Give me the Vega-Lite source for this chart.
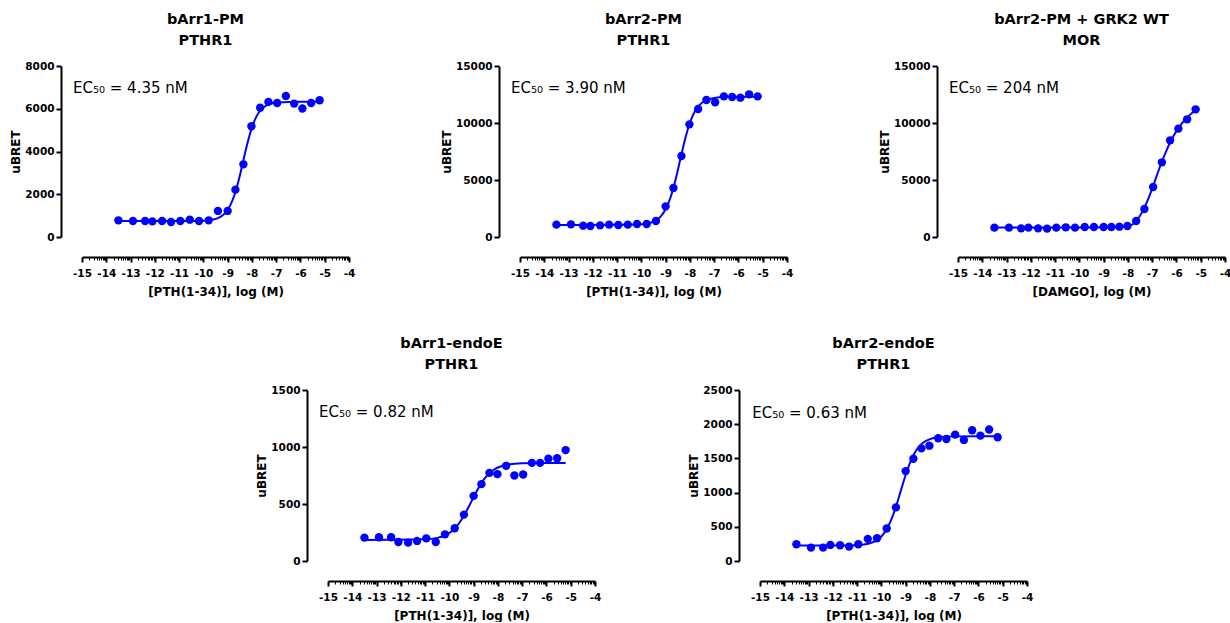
{
  "$schema": "https://vega.github.io/schema/vega-lite/v6.json",
  "padding": {"left": 9, "top": 11, "right": 0, "bottom": 0},
  "autosize": {"type": "pad"},
  "datasets": {
    "pts": [
      {"panel":"p1","x":-13.5,"y":780},{"panel":"p1","x":-12.9,"y":750},{"panel":"p1","x":-12.4,"y":750},{"panel":"p1","x":-12.1,"y":730},{"panel":"p1","x":-11.7,"y":750},{"panel":"p1","x":-11.33,"y":700},{"panel":"p1","x":-10.95,"y":750},{"panel":"p1","x":-10.56,"y":810},{"panel":"p1","x":-10.18,"y":750},{"panel":"p1","x":-9.78,"y":780},{"panel":"p1","x":-9.4,"y":1220},{"panel":"p1","x":-9.0,"y":1220},{"panel":"p1","x":-8.68,"y":2215},{"panel":"p1","x":-8.35,"y":3400},{"panel":"p1","x":-8.02,"y":5180},{"panel":"p1","x":-7.66,"y":6050},{"panel":"p1","x":-7.32,"y":6320},{"panel":"p1","x":-6.96,"y":6270},{"panel":"p1","x":-6.6,"y":6600},{"panel":"p1","x":-6.26,"y":6240},{"panel":"p1","x":-5.92,"y":6010},{"panel":"p1","x":-5.56,"y":6270},{"panel":"p1","x":-5.21,"y":6400},
      {"panel":"p2","x":-13.5,"y":1082},{"panel":"p2","x":-12.9,"y":1111},{"panel":"p2","x":-12.4,"y":994},{"panel":"p2","x":-12.1,"y":965},{"panel":"p2","x":-11.7,"y":1023},{"panel":"p2","x":-11.33,"y":1082},{"panel":"p2","x":-10.95,"y":1053},{"panel":"p2","x":-10.56,"y":1082},{"panel":"p2","x":-10.18,"y":1140},{"panel":"p2","x":-9.78,"y":1140},{"panel":"p2","x":-9.4,"y":1404},{"panel":"p2","x":-9.0,"y":2690},{"panel":"p2","x":-8.68,"y":4298},{"panel":"p2","x":-8.35,"y":7105},{"panel":"p2","x":-8.02,"y":9883},{"panel":"p2","x":-7.66,"y":11228},{"panel":"p2","x":-7.32,"y":12017},{"panel":"p2","x":-6.96,"y":11813},{"panel":"p2","x":-6.6,"y":12339},{"panel":"p2","x":-6.26,"y":12280},{"panel":"p2","x":-5.92,"y":12222},{"panel":"p2","x":-5.56,"y":12515},{"panel":"p2","x":-5.21,"y":12339},
      {"panel":"p3","x":-13.5,"y":819},{"panel":"p3","x":-12.9,"y":819},{"panel":"p3","x":-12.4,"y":760},{"panel":"p3","x":-12.1,"y":819},{"panel":"p3","x":-11.7,"y":760},{"panel":"p3","x":-11.33,"y":731},{"panel":"p3","x":-10.95,"y":819},{"panel":"p3","x":-10.56,"y":848},{"panel":"p3","x":-10.18,"y":819},{"panel":"p3","x":-9.78,"y":877},{"panel":"p3","x":-9.4,"y":877},{"panel":"p3","x":-9.0,"y":877},{"panel":"p3","x":-8.68,"y":877},{"panel":"p3","x":-8.35,"y":906},{"panel":"p3","x":-8.02,"y":965},{"panel":"p3","x":-7.66,"y":1404},{"panel":"p3","x":-7.32,"y":2456},{"panel":"p3","x":-6.96,"y":4386},{"panel":"p3","x":-6.6,"y":6550},{"panel":"p3","x":-6.26,"y":8480},{"panel":"p3","x":-5.92,"y":9503},{"panel":"p3","x":-5.56,"y":10322},{"panel":"p3","x":-5.21,"y":11199},
      {"panel":"p4","x":-13.5,"y":205},{"panel":"p4","x":-12.9,"y":208},{"panel":"p4","x":-12.4,"y":208},{"panel":"p4","x":-12.1,"y":167},{"panel":"p4","x":-11.7,"y":161},{"panel":"p4","x":-11.33,"y":176},{"panel":"p4","x":-10.95,"y":199},{"panel":"p4","x":-10.56,"y":167},{"panel":"p4","x":-10.18,"y":234},{"panel":"p4","x":-9.78,"y":287},{"panel":"p4","x":-9.4,"y":407},{"panel":"p4","x":-9.0,"y":571},{"panel":"p4","x":-8.68,"y":674},{"panel":"p4","x":-8.35,"y":773},{"panel":"p4","x":-8.02,"y":762},{"panel":"p4","x":-7.66,"y":835},{"panel":"p4","x":-7.32,"y":750},{"panel":"p4","x":-6.96,"y":759},{"panel":"p4","x":-6.6,"y":861},{"panel":"p4","x":-6.26,"y":861},{"panel":"p4","x":-5.92,"y":897},{"panel":"p4","x":-5.56,"y":902},{"panel":"p4","x":-5.21,"y":973},
      {"panel":"p5","x":-13.5,"y":245},{"panel":"p5","x":-12.9,"y":196},{"panel":"p5","x":-12.4,"y":196},{"panel":"p5","x":-12.1,"y":235},{"panel":"p5","x":-11.7,"y":230},{"panel":"p5","x":-11.33,"y":211},{"panel":"p5","x":-10.95,"y":245},{"panel":"p5","x":-10.56,"y":324},{"panel":"p5","x":-10.18,"y":333},{"panel":"p5","x":-9.78,"y":475},{"panel":"p5","x":-9.4,"y":784},{"panel":"p5","x":-9.0,"y":1314},{"panel":"p5","x":-8.68,"y":1495},{"panel":"p5","x":-8.35,"y":1647},{"panel":"p5","x":-8.02,"y":1686},{"panel":"p5","x":-7.66,"y":1794},{"panel":"p5","x":-7.32,"y":1784},{"panel":"p5","x":-6.96,"y":1848},{"panel":"p5","x":-6.6,"y":1770},{"panel":"p5","x":-6.26,"y":1912},{"panel":"p5","x":-5.92,"y":1833},{"panel":"p5","x":-5.56,"y":1922},{"panel":"p5","x":-5.21,"y":1809}
    ],
    "fit": [
      {"panel":"p1","x":-13.5,"y":750},{"panel":"p1","x":-11,"y":750},{"panel":"p1","x":-10,"y":766},{"panel":"p1","x":-9.6,"y":816},{"panel":"p1","x":-9.4,"y":883},{"panel":"p1","x":-9.2,"y":1015},{"panel":"p1","x":-9.0,"y":1266},{"panel":"p1","x":-8.8,"y":1711},{"panel":"p1","x":-8.6,"y":2413},{"panel":"p1","x":-8.4,"y":3342},{"panel":"p1","x":-8.2,"y":4316},{"panel":"p1","x":-8.0,"y":5120},{"panel":"p1","x":-7.8,"y":5666},{"panel":"p1","x":-7.6,"y":5984},{"panel":"p1","x":-7.4,"y":6155},{"panel":"p1","x":-7.2,"y":6243},{"panel":"p1","x":-7.0,"y":6287},{"panel":"p1","x":-6.5,"y":6320},{"panel":"p1","x":-6.0,"y":6328},{"panel":"p1","x":-5.21,"y":6330},
      {"panel":"p2","x":-13.5,"y":1060},{"panel":"p2","x":-11,"y":1065},{"panel":"p2","x":-10,"y":1115},{"panel":"p2","x":-9.6,"y":1268},{"panel":"p2","x":-9.4,"y":1458},{"panel":"p2","x":-9.2,"y":1810},{"panel":"p2","x":-9.0,"y":2436},{"panel":"p2","x":-8.8,"y":3463},{"panel":"p2","x":-8.6,"y":4955},{"panel":"p2","x":-8.4,"y":6771},{"panel":"p2","x":-8.2,"y":8570},{"panel":"p2","x":-8.0,"y":10020},{"panel":"p2","x":-7.8,"y":11000},{"panel":"p2","x":-7.6,"y":11595},{"panel":"p2","x":-7.4,"y":11930},{"panel":"p2","x":-7.0,"y":12200},{"panel":"p2","x":-6.5,"y":12280},{"panel":"p2","x":-6.0,"y":12295},{"panel":"p2","x":-5.21,"y":12300},
      {"panel":"p3","x":-13.5,"y":830},{"panel":"p3","x":-10,"y":835},{"panel":"p3","x":-9,"y":845},{"panel":"p3","x":-8.4,"y":870},{"panel":"p3","x":-8.0,"y":950},{"panel":"p3","x":-7.8,"y":1120},{"panel":"p3","x":-7.6,"y":1550},{"panel":"p3","x":-7.4,"y":2250},{"panel":"p3","x":-7.2,"y":3150},{"panel":"p3","x":-7.0,"y":4250},{"panel":"p3","x":-6.8,"y":5450},{"panel":"p3","x":-6.6,"y":6600},{"panel":"p3","x":-6.4,"y":7650},{"panel":"p3","x":-6.2,"y":8550},{"panel":"p3","x":-6.0,"y":9300},{"panel":"p3","x":-5.8,"y":9900},{"panel":"p3","x":-5.6,"y":10400},{"panel":"p3","x":-5.4,"y":10800},{"panel":"p3","x":-5.21,"y":11150},
      {"panel":"p4","x":-13.5,"y":185},{"panel":"p4","x":-11.5,"y":188},{"panel":"p4","x":-11,"y":190},{"panel":"p4","x":-10.5,"y":203},{"panel":"p4","x":-10.2,"y":223},{"panel":"p4","x":-10.0,"y":246},{"panel":"p4","x":-9.8,"y":281},{"panel":"p4","x":-9.6,"y":331},{"panel":"p4","x":-9.4,"y":396},{"panel":"p4","x":-9.2,"y":476},{"panel":"p4","x":-9.0,"y":561},{"panel":"p4","x":-8.8,"y":641},{"panel":"p4","x":-8.6,"y":709},{"panel":"p4","x":-8.4,"y":760},{"panel":"p4","x":-8.2,"y":796},{"panel":"p4","x":-8.0,"y":820},{"panel":"p4","x":-7.6,"y":845},{"panel":"p4","x":-7.0,"y":857},{"panel":"p4","x":-6.0,"y":860},{"panel":"p4","x":-5.21,"y":860},
      {"panel":"p5","x":-13.5,"y":225},{"panel":"p5","x":-11.5,"y":227},{"panel":"p5","x":-11,"y":232},{"panel":"p5","x":-10.5,"y":257},{"panel":"p5","x":-10.2,"y":301},{"panel":"p5","x":-10.0,"y":359},{"panel":"p5","x":-9.8,"y":453},{"panel":"p5","x":-9.6,"y":596},{"panel":"p5","x":-9.4,"y":792},{"panel":"p5","x":-9.2,"y":1025},{"panel":"p5","x":-9.0,"y":1258},{"panel":"p5","x":-8.8,"y":1454},{"panel":"p5","x":-8.6,"y":1598},{"panel":"p5","x":-8.4,"y":1691},{"panel":"p5","x":-8.2,"y":1748},{"panel":"p5","x":-8.0,"y":1782},{"panel":"p5","x":-7.6,"y":1812},{"panel":"p5","x":-7.0,"y":1822},{"panel":"p5","x":-6.0,"y":1825},{"panel":"p5","x":-5.21,"y":1825}
    ]
  },
  "spacing": 37,
  "vconcat": [
    {
      "hconcat": [
        {
          "width": 267, "height": 171,
          "title": {"text": ["bArr1-PM", "PTHR1"]},
          "resolve": {"axis": {"x": "independent", "y": "independent"}},
          "layer": [
            {"data": {"name": "fit"}, "transform": [{"filter": "datum.panel == 'p1'"}],
             "mark": {"type": "line", "color": "#0000ff", "strokeWidth": 2, "interpolate": "monotone"},
             "encoding": {
               "x": {"field": "x", "type": "quantitative", "title": "[PTH(1-34)], log (M)", "scale": {"domain": [-15, -4], "nice": false, "zero": false},
                     "axis": {"orient": "bottom", "offset": 20, "labelOverlap": false, "labelFlush": false, "values": [-15,-14,-13,-12,-11,-10,-9,-8,-7,-6,-5,-4], "labelExpr": "'' + datum.value", "tickSize": 5, "tickWidth": 2}},
               "y": {"field": "y", "type": "quantitative", "title": "uBRET", "scale": {"domain": [0, 8000], "nice": false},
                     "axis": {"orient": "left", "offset": 21, "labelOverlap": false, "labelFlush": false, "values": [0, 2000, 4000, 6000, 8000], "format": "d"}}
             }},
            {"data": {"name": "pts"}, "transform": [{"filter": "datum.panel == 'p1'"}],
             "mark": {"type": "circle", "color": "#0000ff", "size": 70, "opacity": 1},
             "encoding": {
               "x": {"field": "x", "type": "quantitative", "axis": {"orient": "bottom", "offset": 20, "title": null, "labels": false, "domain": false, "tickSize": 3, "tickWidth": 1, "values": [-14.699,-14.523,-14.398,-14.301,-14.222,-14.155,-14.097,-14.046,-13.699,-13.523,-13.398,-13.301,-13.222,-13.155,-13.097,-13.046,-12.699,-12.523,-12.398,-12.301,-12.222,-12.155,-12.097,-12.046,-11.699,-11.523,-11.398,-11.301,-11.222,-11.155,-11.097,-11.046,-10.699,-10.523,-10.398,-10.301,-10.222,-10.155,-10.097,-10.046,-9.699,-9.523,-9.398,-9.301,-9.222,-9.155,-9.097,-9.046,-8.699,-8.523,-8.398,-8.301,-8.222,-8.155,-8.097,-8.046,-7.699,-7.523,-7.398,-7.301,-7.222,-7.155,-7.097,-7.046,-6.699,-6.523,-6.398,-6.301,-6.222,-6.155,-6.097,-6.046,-5.699,-5.523,-5.398,-5.301,-5.222,-5.155,-5.097,-5.046,-4.699,-4.523,-4.398,-4.301,-4.222,-4.155,-4.097,-4.046]}},
               "y": {"field": "y", "type": "quantitative", "axis": null}
             }},
            {"data": {"values": [{"label": "EC₅₀ = 4.35 nM"}]},
             "mark": {"type": "text", "align": "left", "baseline": "alphabetic", "fontSize": 15, "color": "black", "font": "DejaVu Sans"},
             "encoding": {"x": {"datum": -15.37, "axis": null}, "y": {"datum": 6737, "axis": null}, "text": {"field": "label"}}}
          ]
        },
        {
          "width": 267, "height": 171,
          "title": {"text": ["bArr2-PM", "PTHR1"]},
          "resolve": {"axis": {"x": "independent", "y": "independent"}},
          "layer": [
            {"data": {"name": "fit"}, "transform": [{"filter": "datum.panel == 'p2'"}],
             "mark": {"type": "line", "color": "#0000ff", "strokeWidth": 2, "interpolate": "monotone"},
             "encoding": {
               "x": {"field": "x", "type": "quantitative", "title": "[PTH(1-34)], log (M)", "scale": {"domain": [-15, -4], "nice": false, "zero": false},
                     "axis": {"orient": "bottom", "offset": 20, "labelOverlap": false, "labelFlush": false, "values": [-15,-14,-13,-12,-11,-10,-9,-8,-7,-6,-5,-4], "labelExpr": "'' + datum.value", "tickSize": 5, "tickWidth": 2}},
               "y": {"field": "y", "type": "quantitative", "title": "uBRET", "scale": {"domain": [0, 15000], "nice": false},
                     "axis": {"orient": "left", "offset": 21, "labelOverlap": false, "labelFlush": false, "values": [0, 5000, 10000, 15000], "format": "d"}}
             }},
            {"data": {"name": "pts"}, "transform": [{"filter": "datum.panel == 'p2'"}],
             "mark": {"type": "circle", "color": "#0000ff", "size": 70, "opacity": 1},
             "encoding": {
               "x": {"field": "x", "type": "quantitative", "axis": {"orient": "bottom", "offset": 20, "title": null, "labels": false, "domain": false, "tickSize": 3, "tickWidth": 1, "values": [-14.699,-14.523,-14.398,-14.301,-14.222,-14.155,-14.097,-14.046,-13.699,-13.523,-13.398,-13.301,-13.222,-13.155,-13.097,-13.046,-12.699,-12.523,-12.398,-12.301,-12.222,-12.155,-12.097,-12.046,-11.699,-11.523,-11.398,-11.301,-11.222,-11.155,-11.097,-11.046,-10.699,-10.523,-10.398,-10.301,-10.222,-10.155,-10.097,-10.046,-9.699,-9.523,-9.398,-9.301,-9.222,-9.155,-9.097,-9.046,-8.699,-8.523,-8.398,-8.301,-8.222,-8.155,-8.097,-8.046,-7.699,-7.523,-7.398,-7.301,-7.222,-7.155,-7.097,-7.046,-6.699,-6.523,-6.398,-6.301,-6.222,-6.155,-6.097,-6.046,-5.699,-5.523,-5.398,-5.301,-5.222,-5.155,-5.097,-5.046,-4.699,-4.523,-4.398,-4.301,-4.222,-4.155,-4.097,-4.046]}},
               "y": {"field": "y", "type": "quantitative", "axis": null}
             }},
            {"data": {"values": [{"label": "EC₅₀ = 3.90 nM"}]},
             "mark": {"type": "text", "align": "left", "baseline": "alphabetic", "fontSize": 15, "color": "black", "font": "DejaVu Sans"},
             "encoding": {"x": {"datum": -15.37, "axis": null}, "y": {"datum": 12605, "axis": null}, "text": {"field": "label"}}}
          ]
        },
        {
          "width": 267, "height": 171,
          "title": {"text": ["bArr2-PM + GRK2 WT", "MOR"]},
          "resolve": {"axis": {"x": "independent", "y": "independent"}},
          "layer": [
            {"data": {"name": "fit"}, "transform": [{"filter": "datum.panel == 'p3'"}],
             "mark": {"type": "line", "color": "#0000ff", "strokeWidth": 2, "interpolate": "monotone"},
             "encoding": {
               "x": {"field": "x", "type": "quantitative", "title": "[DAMGO], log (M)", "scale": {"domain": [-15, -4], "nice": false, "zero": false},
                     "axis": {"orient": "bottom", "offset": 20, "labelOverlap": false, "labelFlush": false, "values": [-15,-14,-13,-12,-11,-10,-9,-8,-7,-6,-5,-4], "labelExpr": "'' + datum.value", "tickSize": 5, "tickWidth": 2}},
               "y": {"field": "y", "type": "quantitative", "title": "uBRET", "scale": {"domain": [0, 15000], "nice": false},
                     "axis": {"orient": "left", "offset": 21, "labelOverlap": false, "labelFlush": false, "values": [0, 5000, 10000, 15000], "format": "d"}}
             }},
            {"data": {"name": "pts"}, "transform": [{"filter": "datum.panel == 'p3'"}],
             "mark": {"type": "circle", "color": "#0000ff", "size": 70, "opacity": 1},
             "encoding": {
               "x": {"field": "x", "type": "quantitative", "axis": {"orient": "bottom", "offset": 20, "title": null, "labels": false, "domain": false, "tickSize": 3, "tickWidth": 1, "values": [-14.699,-14.523,-14.398,-14.301,-14.222,-14.155,-14.097,-14.046,-13.699,-13.523,-13.398,-13.301,-13.222,-13.155,-13.097,-13.046,-12.699,-12.523,-12.398,-12.301,-12.222,-12.155,-12.097,-12.046,-11.699,-11.523,-11.398,-11.301,-11.222,-11.155,-11.097,-11.046,-10.699,-10.523,-10.398,-10.301,-10.222,-10.155,-10.097,-10.046,-9.699,-9.523,-9.398,-9.301,-9.222,-9.155,-9.097,-9.046,-8.699,-8.523,-8.398,-8.301,-8.222,-8.155,-8.097,-8.046,-7.699,-7.523,-7.398,-7.301,-7.222,-7.155,-7.097,-7.046,-6.699,-6.523,-6.398,-6.301,-6.222,-6.155,-6.097,-6.046,-5.699,-5.523,-5.398,-5.301,-5.222,-5.155,-5.097,-5.046,-4.699,-4.523,-4.398,-4.301,-4.222,-4.155,-4.097,-4.046]}},
               "y": {"field": "y", "type": "quantitative", "axis": null}
             }},
            {"data": {"values": [{"label": "EC₅₀ = 204 nM"}]},
             "mark": {"type": "text", "align": "left", "baseline": "alphabetic", "fontSize": 15, "color": "black", "font": "DejaVu Sans"},
             "encoding": {"x": {"datum": -15.37, "axis": null}, "y": {"datum": 12630, "axis": null}, "text": {"field": "label"}}}
          ]
        }
      ],
      "spacing": 171,
      "bounds": "flush"
    },
    {
      "hconcat": [
        {
          "width": 81, "height": 171,
          "data": {"values": []},
          "mark": "point"
        },
        {
          "width": 267, "height": 171,
          "title": {"text": ["bArr1-endoE", "PTHR1"]},
          "resolve": {"axis": {"x": "independent", "y": "independent"}},
          "layer": [
            {"data": {"name": "fit"}, "transform": [{"filter": "datum.panel == 'p4'"}],
             "mark": {"type": "line", "color": "#0000ff", "strokeWidth": 2, "interpolate": "monotone"},
             "encoding": {
               "x": {"field": "x", "type": "quantitative", "title": "[PTH(1-34)], log (M)", "scale": {"domain": [-15, -4], "nice": false, "zero": false},
                     "axis": {"orient": "bottom", "offset": 20, "labelOverlap": false, "labelFlush": false, "values": [-15,-14,-13,-12,-11,-10,-9,-8,-7,-6,-5,-4], "labelExpr": "'' + datum.value", "tickSize": 5, "tickWidth": 2}},
               "y": {"field": "y", "type": "quantitative", "title": "uBRET", "scale": {"domain": [0, 1500], "nice": false},
                     "axis": {"orient": "left", "offset": 21, "labelOverlap": false, "labelFlush": false, "values": [0, 500, 1000, 1500], "format": "d"}}
             }},
            {"data": {"name": "pts"}, "transform": [{"filter": "datum.panel == 'p4'"}],
             "mark": {"type": "circle", "color": "#0000ff", "size": 70, "opacity": 1},
             "encoding": {
               "x": {"field": "x", "type": "quantitative", "axis": {"orient": "bottom", "offset": 20, "title": null, "labels": false, "domain": false, "tickSize": 3, "tickWidth": 1, "values": [-14.699,-14.523,-14.398,-14.301,-14.222,-14.155,-14.097,-14.046,-13.699,-13.523,-13.398,-13.301,-13.222,-13.155,-13.097,-13.046,-12.699,-12.523,-12.398,-12.301,-12.222,-12.155,-12.097,-12.046,-11.699,-11.523,-11.398,-11.301,-11.222,-11.155,-11.097,-11.046,-10.699,-10.523,-10.398,-10.301,-10.222,-10.155,-10.097,-10.046,-9.699,-9.523,-9.398,-9.301,-9.222,-9.155,-9.097,-9.046,-8.699,-8.523,-8.398,-8.301,-8.222,-8.155,-8.097,-8.046,-7.699,-7.523,-7.398,-7.301,-7.222,-7.155,-7.097,-7.046,-6.699,-6.523,-6.398,-6.301,-6.222,-6.155,-6.097,-6.046,-5.699,-5.523,-5.398,-5.301,-5.222,-5.155,-5.097,-5.046,-4.699,-4.523,-4.398,-4.301,-4.222,-4.155,-4.097,-4.046]}},
               "y": {"field": "y", "type": "quantitative", "axis": null}
             }},
            {"data": {"values": [{"label": "EC₅₀ = 0.82 nM"}]},
             "mark": {"type": "text", "align": "left", "baseline": "alphabetic", "fontSize": 15, "color": "black", "font": "DejaVu Sans"},
             "encoding": {"x": {"datum": -15.37, "axis": null}, "y": {"datum": 1260, "axis": null}, "text": {"field": "label"}}}
          ]
        },
        {
          "width": 267, "height": 171,
          "title": {"text": ["bArr2-endoE", "PTHR1"]},
          "resolve": {"axis": {"x": "independent", "y": "independent"}},
          "layer": [
            {"data": {"name": "fit"}, "transform": [{"filter": "datum.panel == 'p5'"}],
             "mark": {"type": "line", "color": "#0000ff", "strokeWidth": 2, "interpolate": "monotone"},
             "encoding": {
               "x": {"field": "x", "type": "quantitative", "title": "[PTH(1-34)], log (M)", "scale": {"domain": [-15, -4], "nice": false, "zero": false},
                     "axis": {"orient": "bottom", "offset": 20, "labelOverlap": false, "labelFlush": false, "values": [-15,-14,-13,-12,-11,-10,-9,-8,-7,-6,-5,-4], "labelExpr": "'' + datum.value", "tickSize": 5, "tickWidth": 2}},
               "y": {"field": "y", "type": "quantitative", "title": "uBRET", "scale": {"domain": [0, 2500], "nice": false},
                     "axis": {"orient": "left", "offset": 21, "labelOverlap": false, "labelFlush": false, "values": [0, 500, 1000, 1500, 2000, 2500], "format": "d"}}
             }},
            {"data": {"name": "pts"}, "transform": [{"filter": "datum.panel == 'p5'"}],
             "mark": {"type": "circle", "color": "#0000ff", "size": 70, "opacity": 1},
             "encoding": {
               "x": {"field": "x", "type": "quantitative", "axis": {"orient": "bottom", "offset": 20, "title": null, "labels": false, "domain": false, "tickSize": 3, "tickWidth": 1, "values": [-14.699,-14.523,-14.398,-14.301,-14.222,-14.155,-14.097,-14.046,-13.699,-13.523,-13.398,-13.301,-13.222,-13.155,-13.097,-13.046,-12.699,-12.523,-12.398,-12.301,-12.222,-12.155,-12.097,-12.046,-11.699,-11.523,-11.398,-11.301,-11.222,-11.155,-11.097,-11.046,-10.699,-10.523,-10.398,-10.301,-10.222,-10.155,-10.097,-10.046,-9.699,-9.523,-9.398,-9.301,-9.222,-9.155,-9.097,-9.046,-8.699,-8.523,-8.398,-8.301,-8.222,-8.155,-8.097,-8.046,-7.699,-7.523,-7.398,-7.301,-7.222,-7.155,-7.097,-7.046,-6.699,-6.523,-6.398,-6.301,-6.222,-6.155,-6.097,-6.046,-5.699,-5.523,-5.398,-5.301,-5.222,-5.155,-5.097,-5.046,-4.699,-4.523,-4.398,-4.301,-4.222,-4.155,-4.097,-4.046]}},
               "y": {"field": "y", "type": "quantitative", "axis": null}
             }},
            {"data": {"values": [{"label": "EC₅₀ = 0.63 nM"}]},
             "mark": {"type": "text", "align": "left", "baseline": "alphabetic", "fontSize": 15, "color": "black", "font": "DejaVu Sans"},
             "encoding": {"x": {"datum": -15.32, "axis": null}, "y": {"datum": 2084, "axis": null}, "text": {"field": "label"}}}
          ]
        }
      ],
      "spacing": 165,
      "bounds": "flush"
    }
  ],
  "config": {
    "view": {"stroke": null},
    "font": "DejaVu Sans",
    "axis": {"grid": false, "domainColor": "black", "domainWidth": 2, "tickColor": "black", "tickWidth": 2, "labelOverlap": false,
             "labelFont": "DejaVu Sans", "labelFontWeight": "bold", "labelFontSize": 10.5, "labelColor": "black",
             "titleFont": "DejaVu Sans", "titleFontWeight": "bold", "titleColor": "black"},
    "axisX": {"labelPadding": 6, "titleFontSize": 12, "titlePadding": 8},
    "axisY": {"tickSize": 5, "labelPadding": 2, "titleFontSize": 12, "titlePadding": 2},
    "title": {"font": "DejaVu Sans", "fontSize": 14.5, "fontWeight": "bold", "color": "black", "anchor": "middle", "dx": -10, "offset": 13, "lineHeight": 21}
  }
}
